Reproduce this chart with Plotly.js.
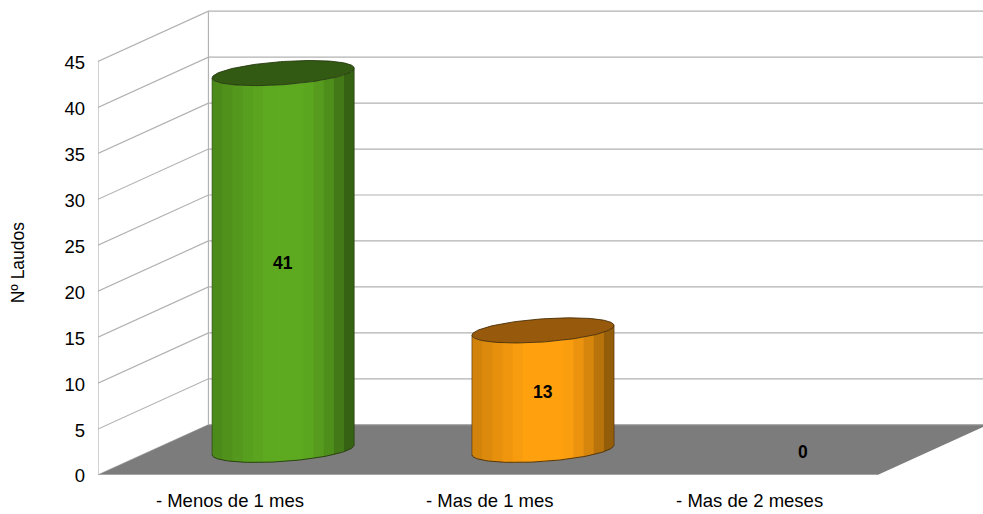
<!DOCTYPE html>
<html>
<head>
<meta charset="utf-8">
<script src="https://cdn.plot.ly/plotly-3.0.1.min.js"></script>
<style>html,body{margin:0;padding:0;background:#fff}#chart{width:983px;height:514px}</style>
</head>
<body>
<div id="chart"></div>
<script>
const categories = ['- Menos de 1 mes', '- Mas de 1 mes', '- Mas de 2 meses'];
const laudos = [41, 13, 0];
const yTicks = [0, 5, 10, 15, 20, 25, 30, 35, 40, 45];
const yLabels = ['0', '5', '10', '15', '20', '25', '30', '35', '40', '45'];
const bodyColors = [[93, 169, 32], [255, 160, 15]];
const topColors = ['#335a12', '#975a0c'];
const edgeColors = ['#24380c', '#4a2e04'];
const stripShades = [.82, .86, .90, .94, .97, 1, 1, 1, 1, .98, .92, .84, .72, .58];

const FONT = '"Liberation Sans", Arial, sans-serif';
const DEPTH_X = 0.425, DEPTH_Y = 5.47;      // oblique projection of the depth axis, in data units
const RADIUS = 0.252, TILT = Math.atan2(0.25 * DEPTH_X * 260, RADIUS * 260);

// map a (category, value, depth 0..1) location onto the flat axes
const px = (c, d) => c + d * DEPTH_X;
const py = (v, d) => v + d * DEPTH_Y;
const ringX = (i, t) => px(i + RADIUS * Math.cos(t), 0.5 + 0.25 * Math.sin(t));
const ringY = (v, t) => py(v, 0.5 + 0.25 * Math.sin(t));

const traces = [];
const line = (x, y, color, width) => traces.push({
  x, y, mode: 'lines', line: {color, width}, cliponaxis: false, hoverinfo: 'skip'
});

// walls
yTicks.forEach(v => {
  line([-0.5, px(-0.5, 1), px(2.5, 1)], [v, py(v, 1), py(v, 1)], '#b2b2b2', 1.2);
});
line([-0.5, -0.5], [0, 45], '#b2b2b2', 1.2);
line([px(-0.5, 1), px(-0.5, 1)], [py(0, 1), py(45, 1)], '#b2b2b2', 1.2);

// floor
traces.push({
  x: [-0.5, 2.5, px(2.5, 1), px(-0.5, 1), -0.5],
  y: [0, 0, py(0, 1), py(0, 1), 0],
  mode: 'lines', fill: 'toself', fillcolor: '#7c7c7c',
  line: {color: '#7c7c7c', width: 0}, hoverinfo: 'skip'
});
line([-0.5, 2.5], [0, 0], '#b2b2b2', 1.4);
line([px(-0.5, 1), px(2.5, 1)], [py(0, 1), py(0, 1)], '#a8a8a8', 1.2);

// cylinders
laudos.forEach((v, i) => {
  if (!v) return;
  const n = stripShades.length, start = Math.PI + TILT, span = Math.PI;
  const rgb = bodyColors[i];
  // strips of even on-screen width across the silhouette; each runs under the next to hide seams
  const at = f => start + Math.acos(1 - 2 * Math.min(f, 1));
  stripShades.forEach((s, k) => {
    const steps = [0, .25, .5, .75, 1, 1.3].map(f => at((k + f) / n));
    const xs = [], ys = [];
    steps.forEach(t => { xs.push(ringX(i, t)); ys.push(ringY(0, t)); });
    steps.slice().reverse().forEach(t => { xs.push(ringX(i, t)); ys.push(ringY(v, t)); });
    const col = `rgb(${rgb.map(c => Math.round(c * s)).join(',')})`;
    traces.push({x: xs, y: ys, mode: 'lines', fill: 'toself', fillcolor: col,
      line: {color: col, width: 0}, hoverinfo: 'skip'});
  });
  // outline of the body
  const angles = Array.from({length: 73}, (_, k) => start + span * k / 72);
  line(angles.map(t => ringX(i, t)), angles.map(t => ringY(0, t)), edgeColors[i], 0.9);
  line([ringX(i, start), ringX(i, start)], [ringY(0, start), ringY(v, start)], edgeColors[i], 0.6);
  line([ringX(i, start + span), ringX(i, start + span)], [ringY(0, start + span), ringY(v, start + span)], edgeColors[i], 0.6);
  // top
  const full = Array.from({length: 145}, (_, k) => 2 * Math.PI * k / 144);
  traces.push({x: full.map(t => ringX(i, t)), y: full.map(t => ringY(v, t)),
    mode: 'lines', fill: 'toself', fillcolor: topColors[i],
    line: {color: edgeColors[i], width: 0.9}, hoverinfo: 'skip'});
});

const layout = {
  width: 983, height: 514,
  margin: {l: 97.5, r: 0, t: 0, b: 39},
  paper_bgcolor: '#fff', plot_bgcolor: '#fff',
  showlegend: false, hovermode: false,
  font: {family: FONT, color: '#000'},
  xaxis: {
    range: [-0.5, 2.9058], showgrid: false, zeroline: false, showline: false,
    tickmode: 'array', tickvals: categories.map((_, i) => i), ticktext: categories,
    ticks: '', ticklabelstandoff: 12, ticklabelshift: 2,
    tickfont: {family: FONT, size: 18.5, color: '#000'}
  },
  yaxis: {
    range: [0, 475 / 9.19], showgrid: false, zeroline: false, showline: false,
    tickmode: 'array', tickvals: yTicks, ticktext: yLabels,
    ticks: '', ticklabelstandoff: 12, ticklabelshift: 1,
    tickfont: {family: FONT, size: 18.5, color: '#000'}
  },
  annotations: laudos.map((v, i) => ({
    x: px(i, 0.5), y: py(v / 2, 0.5), xref: 'x', yref: 'y',
    text: String(v), showarrow: false, xanchor: 'center', yanchor: 'middle', yshift: -2,
    font: {family: FONT, size: 17.5, color: '#000', weight: 700}
  })).concat([{
    x: -0.0909, xref: 'paper', y: 23.1, yref: 'y',
    text: 'Nº Laudos', textangle: -90, showarrow: false,
    xanchor: 'center', yanchor: 'middle',
    font: {family: FONT, size: 17.5, color: '#000'}
  }])
};
Plotly.newPlot('chart', traces, layout, {displayModeBar: false, staticPlot: true});
</script>
</body>
</html>
